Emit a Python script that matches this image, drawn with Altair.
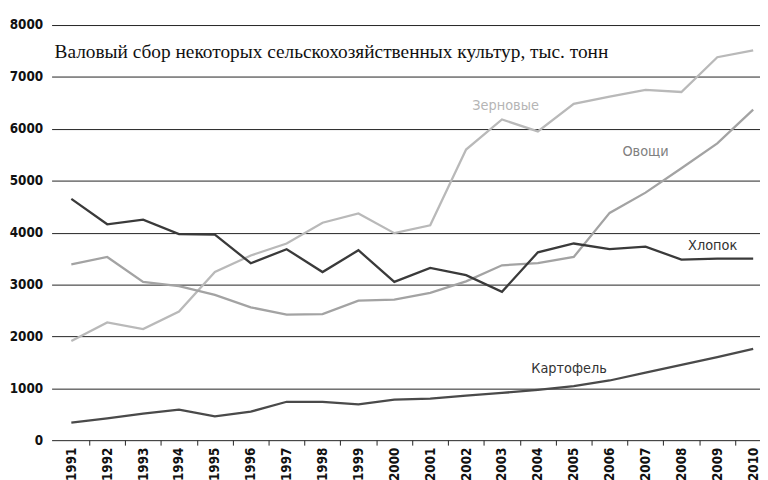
import altair as alt
import pandas as pd

years = [1991, 1992, 1993, 1994, 1995, 1996, 1997, 1998, 1999, 2000,
         2001, 2002, 2003, 2004, 2005, 2006, 2007, 2008, 2009, 2010]
cotton = [4650, 4160, 4250, 3970, 3960, 3410, 3680, 3240, 3660, 3050,
          3320, 3180, 2860, 3620, 3790, 3680, 3730, 3480, 3500, 3500]
grain = [1910, 2270, 2140, 2480, 3240, 3560, 3790, 4190, 4370, 3990,
         4140, 5600, 6180, 5950, 6480, 6620, 6750, 6710, 7380, 7510]
veg = [3390, 3530, 3050, 2970, 2800, 2560, 2420, 2430, 2690, 2710,
       2840, 3060, 3370, 3410, 3530, 4380, 4770, 5240, 5720, 6370]
potato = [340, 420, 510, 590, 460, 550, 740, 740, 690, 780,
          800, 860, 910, 970, 1040, 1150, 1300, 1450, 1600, 1760]

series_names = ["Зерновые", "Овощи", "Хлопок", "Картофель"]
series_values = [grain, veg, cotton, potato]
line_colors = ["#b9b9b9", "#a3a3a3", "#3a3a3a", "#4a4a4a"]
text_colors = ["#b5b5b5", "#808080", "#333333", "#333333"]
label_x = [2003.1, 2007.0, 2008.87, 2004.87]
label_y = [6444, 5548, 3737, 1373]
title_text = "Валовый сбор некоторых сельскохозяйственных культур, тыс. тонн"
y_ticks = [0, 1000, 2000, 3000, 4000, 5000, 6000, 7000, 8000]

rows = []
for name, vals in zip(series_names, series_values):
    for yr, v in zip(years, vals):
        rows.append({"year": yr, "value": v, "series": name})
df = pd.DataFrame(rows)

lab_df = pd.DataFrame({"series": series_names, "x": label_x, "y": label_y,
                       "tc": text_colors})

axis_font = "DejaVu Sans Condensed, Liberation Sans Narrow, sans-serif"

xscale = alt.Scale(domain=[1990.45, 2010.19], nice=False, zero=False)
yscale = alt.Scale(domain=[0, 8000], nice=False)

xaxis = alt.Axis(values=years, format="d", title=None, labelAngle=270,
                 tickSize=5, tickOffset=18, labelOffset=-18,
                 labelPadding=2, domain=False, grid=False,
                 labelFont=axis_font, labelFontSize=13.5,
                 labelFontWeight="bold", labelColor="#111",
                 tickColor="#222", labelOverlap=False, labelBound=False,
                 labelFlush=False)
yaxis = alt.Axis(values=y_ticks, format="d", title=None, tickSize=0,
                 domain=False, grid=True, gridColor="#222", gridWidth=1,
                 labelPadding=9, labelFont=axis_font, labelFontSize=13.5,
                 labelFontWeight="bold", labelColor="#111", labelOverlap=False)

lines = alt.Chart(df).mark_line(strokeWidth=2.3).encode(
    x=alt.X("year:Q", scale=xscale, axis=xaxis),
    y=alt.Y("value:Q", scale=yscale, axis=yaxis),
    color=alt.Color("series:N", scale=alt.Scale(domain=series_names, range=line_colors),
                    legend=None),
)

labels = alt.Chart(lab_df).mark_text(font=axis_font, fontSize=14.5,
                                     align="center", baseline="middle").encode(
    x=alt.X("x:Q", scale=xscale, axis=xaxis),
    y=alt.Y("y:Q", scale=yscale, axis=yaxis),
    text="series:N",
    color=alt.Color("tc:N", scale=None),
)

title = alt.Chart(pd.DataFrame({"t": [title_text]})).mark_text(
    font="Liberation Serif", fontSize=19.5, align="left", baseline="alphabetic",
    color="#111").encode(x=alt.value(3), y=alt.value(33), text="t:N")

chart = alt.layer(lines, labels, title).properties(
    width=715, height=419, autosize="none",
    padding={"left": 44, "top": 15, "right": 0, "bottom": 38},
).configure_view(stroke=None).configure_axis(labelOverlap=False)

chart.save("out.html", embed_options={"renderer": "svg", "actions": False})
